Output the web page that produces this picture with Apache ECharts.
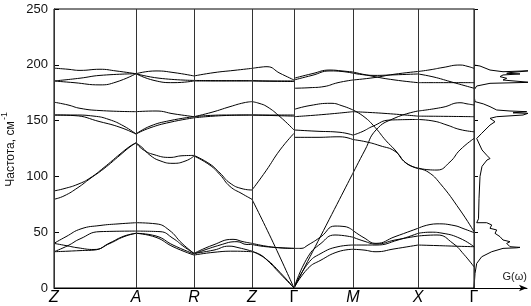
<!DOCTYPE html>
<html><head><meta charset="utf-8">
<script src="https://cdn.jsdelivr.net/npm/echarts@6/dist/echarts.min.js"></script>
<style>html,body{margin:0;padding:0;background:#fff}#c{width:531px;height:306px}</style>
</head><body><div id="c"></div>
<script>
// high-symmetry points (path coordinate) and labels
const kLabels = ['Z','A','R','Z','Γ','M','X','Γ'];
const kPos = [0, 82, 140, 198, 240, 299, 364, 420];
const yTicks = [0, 50, 100, 150, 200, 250];

// phonon branches, frequency (cm^-1) along the path, per segment
const segZA = [
  [[0,197],[14,196],[26,195],[46,196],[62,194.5],[82,192]],
  [[0,185.5],[26,188],[46,190.5],[82,192]],
  [[0,185.5],[20,184],[46,182],[62,184.5],[82,192]],
  [[0,166.5],[14,164],[26,161],[46,159],[82,158]],
  [[0,155],[20,154.5],[46,149],[66,144],[82,138]],
  [[0,155],[20,155],[40,154],[55,151],[70,145],[82,138]],
  [[0,87],[10,89],[24,93],[36,98.5],[50,108],[66,120],[76,127],[82,130]],
  [[0,79.5],[10,82.5],[24,90],[36,98],[50,107],[66,119],[76,126.5],[82,130]],
  [[0,40],[12,46],[27,53],[46,56],[65,57.5],[82,58.5]],
  [[0,32.5],[14,38],[26,44],[46,50.5],[82,51]],
  [[0,40],[12,38],[24,36],[40,34.5],[56,40],[70,46],[82,49]],
  [[0,32.5],[14,33],[26,33.5],[40,34],[56,40.5],[70,46.5],[82,49]]
];
const segAR = [
  [[82,192],[102,194.5],[120,193],[140,190]],
  [[82,192],[105,188],[140,186]],
  [[82,192],[100,186],[120,184],[140,185.5]],
  [[82,158],[102,158.6],[120,156],[140,153.5]],
  [[82,138],[96,145],[116,150],[140,153.5]],
  [[82,138],[96,143.5],[116,148.5],[140,152.5]],
  [[82,130],[89,124],[100,119.5],[116,117],[128,118.5],[140,118.8]],
  [[82,130],[88,126],[96,119],[106,114],[119,111.7],[132,114],[140,118.3]],
  [[82,58.5],[102,57.5],[115,52],[128,40],[140,31]],
  [[82,51],[106,50.5],[119,44.5],[130,37],[140,31]],
  [[82,49],[102,46.6],[119,38.5],[140,30.5]],
  [[82,49],[102,45.4],[119,37],[140,29.5]]
];
const segRZ = [
  [[140,190],[160,193],[180,195],[198,196.8]],
  [[140,186],[170,185.8],[198,185.8]],
  [[140,185.5],[170,185.5],[198,185.5]],
  [[140,153.5],[158,157.5],[176,162.5],[190,166],[198,167]],
  [[140,153.5],[170,155],[198,155]],
  [[140,152.5],[170,154.5],[198,155]],
  [[140,118.8],[156,111],[166,103],[176,94],[188,89],[198,87.8]],
  [[140,118.3],[156,110],[166,101.5],[176,91],[188,84.5],[198,79.5]],
  [[140,31],[159,38.5],[179,43.6],[189,41.5],[198,40]],
  [[140,30.5],[166,38.5],[183,41.5],[193,39],[198,39]],
  [[140,29.5],[160,32],[180,33],[198,32.5]],
  [[140,31],[160,34],[175,37.5],[185,36],[198,33]]
];
const segZG = [
  [[198,196.8],[206,197.8],[213,198.3],[226,192.4],[240,186.4]],
  [[198,185.8],[220,185.5],[240,185.5]],
  [[198,185.5],[220,185.2],[240,185]],
  [[198,167],[205,165.5],[213,162.5],[226,153.5],[240,141.6]],
  [[198,155],[220,154.5],[240,154]],
  [[198,155],[220,155],[240,155]],
  [[198,87.8],[212,105],[226,123.7],[240,138.6]],
  [[198,79.5],[219,41],[240,0]],
  [[198,40],[212,37.5],[226,36],[240,35.5]],
  [[198,39],[212,37],[240,35.5]],
  [[198,32.5],[206,30],[213,25],[226,13],[240,0]],
  [[198,33],[212,26],[226,14],[240,0]]
];
const segGM = [
  [[240,187.9],[258,192],[276,195.3],[288,194.5],[299,193.5]],
  [[240,186.4],[258,190.5],[276,194.5],[288,194],[299,192.5]],
  [[240,179],[256,179.5],[270,180.5],[284,184],[299,186.4]],
  [[240,160],[256,163.5],[277,165.5],[289,163],[299,159.5]],
  [[240,153.5],[270,155.5],[299,158]],
  [[240,141.6],[262,140.5],[286,139.5],[299,137]],
  [[240,135],[262,135],[286,135.5],[299,133]],
  [[240,0],[299,103]],
  [[240,35.5],[247,35.5],[254,38.5],[267,46],[281,55.5],[291,55],[299,51.5]],
  [[240,0],[254,28],[267,40],[281,47.5],[299,45.5]],
  [[240,0],[254,22],[267,31],[284,37],[299,38.5]],
  [[240,0],[254,17.6],[267,25],[284,32.5],[299,34.7]]
];
const segMX = [
  [[299,193.5],[320,189.5],[340,186.5],[364,184]],
  [[299,192.5],[320,190.5],[340,191],[364,191.8]],
  [[299,186.4],[320,188.5],[340,191.5],[364,194]],
  [[299,159.5],[310,153.5],[321,144],[332,132],[341,123.7],[352,112],[364,107.5]],
  [[299,158],[330,156.5],[364,154]],
  [[299,137],[308,140],[319,145],[336,150.5],[364,151]],
  [[299,133],[312,131],[326,127.5],[341,122.5],[352,112],[364,107]],
  [[299,103],[311,123.7],[322,141.6],[340,152],[364,158.6]],
  [[299,51.5],[310,45],[322,40],[341,46],[364,53.5]],
  [[299,45.5],[310,42],[322,39.4],[341,43],[364,46.6]],
  [[299,38.5],[310,38.5],[322,38.5],[344,43],[364,49]],
  [[299,34.7],[310,34],[322,32.5],[340,35],[364,38.5]]
];
const segXG = [
  [[364,194],[376,195.5],[389,197.6],[406,199.8],[414,198.5],[420,196.8]],
  [[364,191.8],[380,189],[396,185],[410,181.5],[420,179]],
  [[364,184],[392,184],[420,184]],
  [[364,158.6],[389,162],[406,166],[413,165],[420,164]],
  [[364,154],[392,153.8],[420,153.5]],
  [[364,151],[380,149.5],[393,146],[406,142],[420,140]],
  [[364,107.5],[374,106],[383,105.7],[396,113],[406,123.7],[420,134]],
  [[364,107],[374,104],[386,93.8],[406,69.9],[420,50.5]],
  [[364,53.5],[383,57.5],[400,56],[410,53],[420,49.6]],
  [[364,46.6],[383,47.5],[399,40],[410,30],[420,19]],
  [[364,49],[376,50],[389,49],[406,44.5],[420,37]],
  [[364,38.5],[383,38],[400,37.5],[420,37]]
];

// phonon density of states G(ω): amplitude and frequency
const dosG = [0,1,2.7,7.7,17.7,29,42.7,46,36,32.7,36,29,26,21,22.7,16,17.7,12.7,2.7,4.5,5,6,8,13,16,12.7,8,2.7,7.7,16,21,16,22.7,49,54,39,52.7,36,22.7,16,9.3,1,0.5,0.5,2.7,16,56,36,29,32.7,26,29,46,32.7,36,56,29,16,6,0];
const dosW = [0,13,22,28,32.5,35.5,36,36.4,37,40,41.5,43,46,49,52,53.5,56.5,58.5,58.5,62,80,100,109,114.7,116,119,123.7,134,138.6,146,149,152,153.5,155,156.5,157,158,158.6,159.5,162.5,165,167,170,178,181,183.4,184.3,185.8,186.4,187.9,189.4,190.9,191.8,192.4,193,194.7,193.8,195.3,198.9,199.8];

const FONT = '"Liberation Sans", Arial, sans-serif';
const allBands = [].concat(segZA, segAR, segRZ, segZG, segGM, segMX, segXG);

const series = allBands.map(b => ({
  type: 'line', xAxisIndex: 0, yAxisIndex: 0, data: b, smooth: 0.5,
  symbol: 'none', silent: true, lineStyle: { color: '#000', width: 1 }, z: 3
}));
series.push({
  type: 'line', xAxisIndex: 0, yAxisIndex: 0, data: [], silent: true,
  markLine: { silent: true, symbol: 'none', label: { show: false },
    lineStyle: { color: '#333', width: 1, type: 'solid' },
    data: kPos.map(x => ({ xAxis: x })) }
});
series.push({
  type: 'line', xAxisIndex: 1, yAxisIndex: 1, clip: false, symbol: 'none', silent: true,
  data: dosG.map((g, i) => [g, dosW[i]]), lineStyle: { color: '#000', width: 1 }
});

const chart = echarts.init(document.getElementById('c'), null, { renderer: 'canvas' });
chart.setOption({
  animation: false,
  backgroundColor: '#fff',
  grid: [
    { left: 54, right: 57, top: 9, bottom: 18, show: true, borderColor: '#000', borderWidth: 1 },
    { left: 474, right: 4, top: 9, bottom: 18 }
  ],
  xAxis: [
    { gridIndex: 0, type: 'value', min: 0, max: 420,
      axisLine: { show: true, lineStyle: { color: '#000' } },
      axisTick: { show: false }, splitLine: { show: false },
      axisLabel: { customValues: kPos, margin: 2,
        formatter: v => { const i = kPos.indexOf(v); const t = kLabels[i]; return t === 'Γ' ? '{n|' + t + '}' : '{i|' + t + '}'; },
        rich: { i: { fontStyle: 'italic', fontSize: 16, fontFamily: FONT, color: '#000' },
                n: { fontSize: 16, fontFamily: FONT, color: '#000' } } } },
    { gridIndex: 1, type: 'value', min: 0, max: 53,
      axisLine: { show: true, symbol: ['none', 'arrow'], symbolSize: [5, 8], lineStyle: { color: '#000' } },
      axisTick: { show: false }, axisLabel: { show: false }, splitLine: { show: false } }
  ],
  yAxis: [
    { gridIndex: 0, type: 'value', min: 0, max: 250, interval: 50,
      axisLine: { show: true, lineStyle: { color: '#000' } },
      axisTick: { show: true, inside: true, length: 5, lineStyle: { color: '#000' } },
      splitLine: { show: false },
      axisLabel: { fontSize: 13, fontFamily: FONT, color: '#111', margin: 6 } },
    { gridIndex: 1, type: 'value', min: 0, max: 250, interval: 50,
      axisLine: { show: true, lineStyle: { color: '#333' } },
      axisTick: { show: true, inside: true, length: 4, lineStyle: { color: '#000' } },
      axisLabel: { show: false }, splitLine: { show: false } }
  ],
  graphic: [
    { type: 'text', x: 11, y: 154, rotation: Math.PI / 2,
      style: { text: 'Частота, см', font: '12px ' + FONT, fill: '#111', textAlign: 'center', textVerticalAlign: 'middle' } },
    { type: 'text', x: 5, y: 116, rotation: Math.PI / 2,
      style: { text: '-1', font: '9px ' + FONT, fill: '#111', textAlign: 'center', textVerticalAlign: 'middle' } },
    { type: 'text', x: 527, y: 277,
      style: { text: 'G(ω)', font: '11px ' + FONT, fill: '#222', textAlign: 'right', textVerticalAlign: 'middle' } }
  ],
  series: series
});
</script>
</body></html>
